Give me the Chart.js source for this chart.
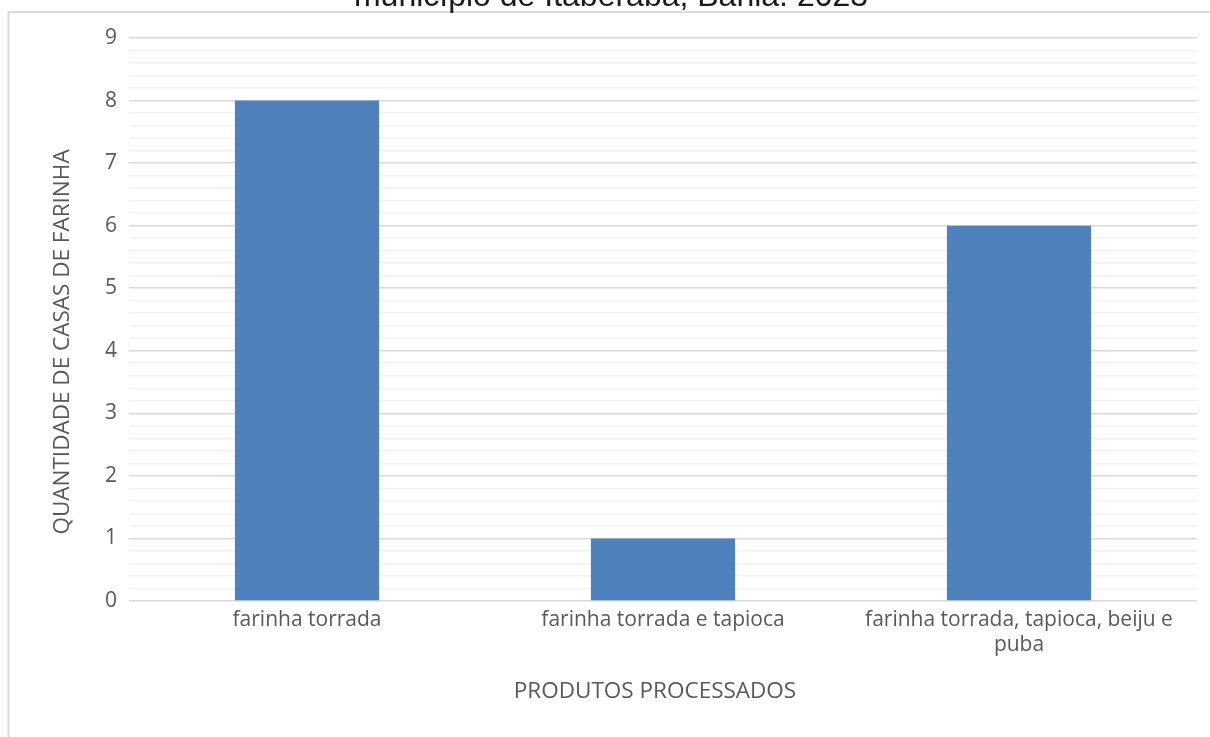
<!DOCTYPE html>
<html lang="pt-BR">
<head>
<meta charset="utf-8">
<title>Produtos processados nas casas de farinha</title>
<script src="https://cdn.jsdelivr.net/npm/chart.js@4.4.1/dist/chart.umd.min.js"></script>
<style>
  html, body { margin: 0; padding: 0; background: #ffffff; }
  #wrap { position: relative; width: 1210px; height: 737px; overflow: hidden; }
  #grafico { position: absolute; left: 0; top: 0; }
</style>
</head>
<body>
<div id="wrap">
  <canvas id="grafico" width="1210" height="737"></canvas>
</div>
<script>
// ==================== Dados ====================
const tituloGrafico = 'município de Itaberaba, Bahia. 2023';
const categorias = [
  'farinha torrada',
  'farinha torrada e tapioca',
  ['farinha torrada, tapioca, beiju e', 'puba']
];
const quantidades = [8, 1, 6];
const eixoYMin = 0;
const eixoYMax = 9;
const eixoYPasso = 0.2; // linhas secundárias a cada 0,2
const tituloEixoX = 'PRODUTOS PROCESSADOS';
const tituloEixoY = 'QUANTIDADE DE CASAS DE FARINHA';

const corTexto = '#595959';
const fonteEixos = '"Open Sans", "DejaVu Sans", sans-serif';

function ehInteiro(v) {
  return Math.abs(v - Math.round(v)) < 1e-6;
}

// ==================== Moldura, título e títulos dos eixos ====================
const decoracao = {
  id: 'decoracao',
  beforeDraw(chart) {
    const ctx = chart.ctx;
    ctx.save();
    ctx.strokeStyle = '#d9d9d9';
    ctx.lineWidth = 2;
    ctx.beginPath();
    ctx.moveTo(1210, 12);
    ctx.lineTo(8.5, 12);
    ctx.lineTo(8.5, 737);
    ctx.stroke();
    ctx.restore();
  },
  afterDraw(chart) {
    const ctx = chart.ctx;
    ctx.save();
    // título principal (cortado no topo)
    ctx.fillStyle = '#1a1a1a';
    ctx.font = '32px "Liberation Sans", Arial, sans-serif';
    ctx.textAlign = 'center';
    ctx.textBaseline = 'alphabetic';
    ctx.fillText(tituloGrafico, 611, 6);

    ctx.fillStyle = corTexto;
    ctx.font = '22.5px ' + fonteEixos;
    ctx.textBaseline = 'middle';

    // título do eixo horizontal
    ctx.fillText(tituloEixoX, 655, 692);

    // título do eixo vertical
    ctx.translate(63, 342);
    ctx.rotate(-Math.PI / 2);
    ctx.fillText(tituloEixoY, 0, 0);
    ctx.restore();
  }
};

// ==================== Gráfico de barras ====================
const ctx = document.getElementById('grafico').getContext('2d');

new Chart(ctx, {
  type: 'bar',
  data: {
    labels: categorias,
    datasets: [{
      data: quantidades,
      backgroundColor: '#4f81bd',
      borderWidth: 0,
      categoryPercentage: 1,
      barPercentage: 0.405
    }]
  },
  options: {
    responsive: false,
    animation: false,
    layout: { padding: { top: 38, right: 13, left: 0, bottom: 0 } },
    plugins: {
      legend: { display: false },
      tooltip: { enabled: false }
    },
    scales: {
      x: {
        afterFit(scale) { scale.height = 136; },
        grid: { display: false, drawTicks: false },
        border: { display: false },
        ticks: {
          color: corTexto,
          font: { family: fonteEixos, size: 21, lineHeight: 1.2 },
          padding: 6,
          maxRotation: 0,
          minRotation: 0,
          autoSkip: false
        }
      },
      y: {
        min: eixoYMin,
        max: eixoYMax,
        afterFit(scale) { scale.width = 129; },
        border: { display: false },
        grid: {
          drawTicks: false,
          lineWidth: 1.6,
          color: (c) => ehInteiro(c.tick.value) ? '#d9d9d9' : '#f2f2f2'
        },
        ticks: {
          stepSize: eixoYPasso,
          autoSkip: false,
          color: corTexto,
          font: { family: fonteEixos, size: 21 },
          padding: 12,
          callback: (v) => ehInteiro(v) ? String(Math.round(v)) : ''
        }
      }
    }
  },
  plugins: [decoracao]
});
</script>
</body>
</html>
